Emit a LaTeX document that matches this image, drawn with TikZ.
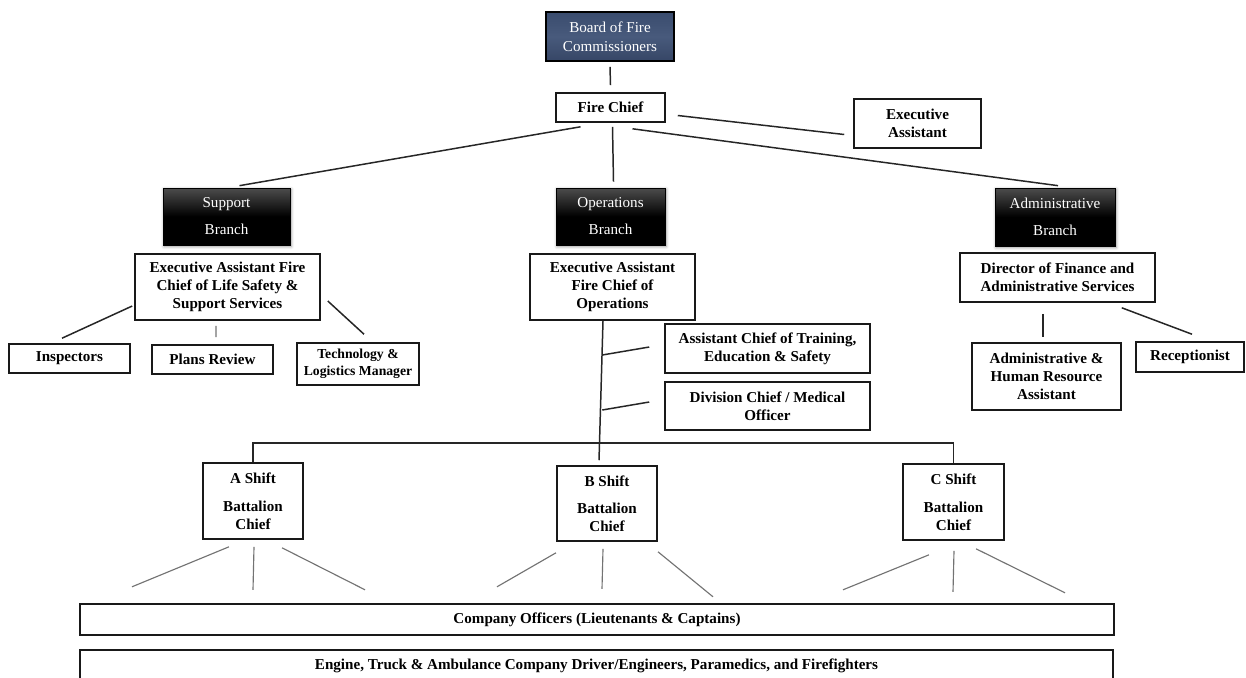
\documentclass[tikz,border=0pt]{standalone}
\usepackage{fontspec}
\setmainfont{Liberation Serif}
\usepackage{tikz}
\usetikzlibrary{
  positioning,
  calc,
  shadows.blur
}
\definecolor{boardtop}{RGB}{58,76,110}
\definecolor{boardmid}{RGB}{72,90,124}
\definecolor{boardbot}{RGB}{54,70,102}

\begin{document}
\begin{tikzpicture}[x=0.02cm,y=-0.02cm,
    box/.style={draw=black!90,line width=0.9pt,fill=white,align=center,inner sep=0pt,
      font=\fontsize{8.6}{10.2}\selectfont\bfseries},
    branch/.style={draw=black,top color=black!70,bottom color=black,middle color=black,
      text=white,align=center,inner sep=0pt,font=\fontsize{8.6}{15.3}\selectfont,
      blur shadow={shadow blur steps=6,shadow xshift=0.6pt,shadow yshift=-0.8pt,shadow opacity=40}},
    link/.style={line width=0.85pt,black!85},
    sublink/.style={line width=0.65pt,black!55}]

    \useasboundingbox (0,0) rectangle (1246,677);

    % top of the chart
    \node[draw=black,line width=0.9pt,top color=boardtop,bottom color=boardbot,middle color=boardmid,
        text=white,align=center,inner sep=0pt,minimum width=2.56cm,minimum height=0.98cm,
        font=\fontsize{8.6}{10.8}\selectfont] (board) at (610,36.5) {Board of Fire\\Commissioners};
    \node[box,minimum width=2.18cm,minimum height=0.58cm] (chief) at (610.5,107.5) {Fire Chief};
    \node[box,minimum width=2.54cm,minimum height=0.98cm] (execa) at (917.5,123.5) {Executive\\Assistant};

    % branches
    \node[branch,minimum width=2.54cm,minimum height=1.14cm] (support) at (226.5,216.5) {Support\\Branch};
    \node[branch,minimum width=2.18cm,minimum height=1.14cm] (ops) at (610.5,216.5) {Operations\\Branch};
    \node[branch,minimum width=2.40cm,minimum height=1.16cm] (admin) at (1055,217) {Administrative\\Branch};

    \node[box,minimum width=3.70cm,minimum height=1.32cm] (life) at (227.5,287)
        {Executive Assistant Fire\\Chief of Life Safety \&\\Support Services};
    \node[box,minimum width=3.30cm,minimum height=1.32cm] (opchief) at (612.5,287)
        {Executive Assistant\\Fire Chief of\\Operations};
    \node[box,minimum width=3.90cm,minimum height=0.98cm] (finance) at (1057.5,277.5)
        {Director of Finance and\\Administrative Services};

    \node[box,minimum width=2.42cm,minimum height=0.58cm] (inspect) at (69.5,358.5) {Inspectors};
    \node[box,minimum width=2.42cm,minimum height=0.58cm] (plans) at (212.5,359.5) {Plans Review};
    \node[box,minimum width=2.44cm,minimum height=0.84cm,font=\fontsize{7.8}{9.4}\selectfont\bfseries]
        (tech) at (358,364) {Technology \&\\Logistics Manager};

    \node[box,minimum width=4.10cm,minimum height=0.98cm] (train) at (767.5,348.5)
        {Assistant Chief of Training,\\Education \& Safety};
    \node[box,minimum width=4.10cm,minimum height=0.96cm] (divis) at (767.5,406)
        {Division Chief / Medical\\Officer};

    \node[box,minimum width=2.98cm,minimum height=1.34cm] (hr) at (1046.5,376.5)
        {Administrative \&\\Human Resource\\Assistant};
    \node[box,minimum width=2.16cm,minimum height=0.60cm] (recept) at (1190,357) {Receptionist};

    % shifts
    \node[box,minimum width=2.00cm,minimum height=1.52cm] (ashift) at (253,501) {A Shift\\[5.5pt]Battalion\\Chief};
    \node[box,minimum width=2.00cm,minimum height=1.50cm] (bshift) at (607,503.5) {B Shift\\[5.5pt]Battalion\\Chief};
    \node[box,minimum width=2.02cm,minimum height=1.52cm] (cshift) at (953.5,502) {C Shift\\[5.5pt]Battalion\\Chief};

    \node[box,minimum width=20.68cm,minimum height=0.62cm] (officers) at (597,619.5)
        {Company Officers (Lieutenants \& Captains)};
    \node[box,minimum width=20.66cm,minimum height=0.64cm] (crew) at (596.5,666)
        {Engine, Truck \& Ambulance Company Driver/Engineers, Paramedics, and Firefighters};

    % connectors
    \draw[link] ($(board.south)+(0,5)$) -- ($(chief.north)+(0,-7)$);
    \draw[link] ($(chief.east)+(12,8)$) -- ($(execa.west)+(-9,11)$);
    \draw[link] ($(chief.south)+(-30,4)$) -- ($(support.north)+(13,-2)$);
    \draw[link] ($(chief.south)+(2,4)$) -- ($(ops.north)+(3,-6)$);
    \draw[link] ($(chief.south)+(22,6)$) -- ($(admin.north)+(3,-2)$);

    \draw[link] ($(life.west)+(-2,19)$) -- ($(inspect.north)+(-7.5,-5)$);
    \draw[sublink] ($(life.south)+(-11.5,5)$) -- ($(plans.north)+(3.5,-7)$);
    \draw[link] ($(life.east)+(7,14)$) -- ($(tech.north)+(6,-8)$);

    \draw[link] ($(opchief.south)+(-9.5,0)$) -- ($(bshift.north)+(-8,-5)$);
    \draw[link] ($(train.west)+(-62,6.5)$) -- ($(train.west)+(-15,-1.5)$);
    \draw[link] ($(divis.west)+(-62,4)$) -- ($(divis.west)+(-15,-4)$);
    \draw[link] (ashift.north) -- ++(0,-19) -| (cshift.north);

    \draw[link] ($(finance.south)+(-14.5,11)$) -- ($(hr.north)+(-3.5,-5)$);
    \draw[link] ($(finance.south east)+(-34,5)$) -- ($(recept.north)+(2,-7)$);

    \draw[sublink] ($(ashift.south)+(-24,7)$) -- ++(-97,40);
    \draw[sublink] ($(ashift.south)+(1,7)$) -- ++(-1,43);
    \draw[sublink] ($(ashift.south)+(29,8)$) -- ++(83,42);
    \draw[sublink] ($(bshift.south)+(-51,11)$) -- ++(-59,34);
    \draw[sublink] ($(bshift.south)+(-4,7)$) -- ++(-1,40);
    \draw[sublink] ($(bshift.south)+(51,10)$) -- ++(55,45);
    \draw[sublink] ($(cshift.south)+(-24.5,14)$) -- ++(-86,35);
    \draw[sublink] ($(cshift.south)+(0.5,10)$) -- ++(-1,41);
    \draw[sublink] ($(cshift.south)+(22.5,8)$) -- ++(89,44);
\end{tikzpicture}
\end{document}
